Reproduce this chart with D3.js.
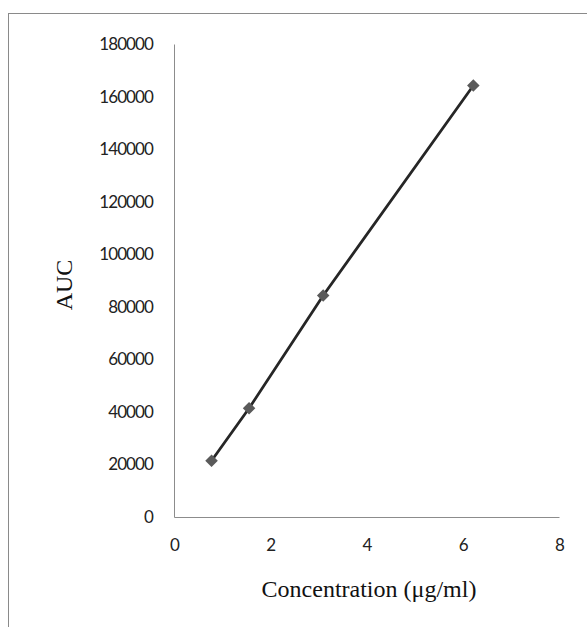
<!DOCTYPE html>
<html>
<head>
<meta charset="utf-8">
<script src="https://cdn.jsdelivr.net/npm/d3@7"></script>
<style>
  body { margin: 0; background: #fff; }
  .tick text { font-family: Lato, "Open Sans", sans-serif; font-size: 17px; letter-spacing: -0.9px; fill: #222; }
  .ttl { font-family: "Liberation Serif", "Times New Roman", serif; font-size: 24px; fill: #111; }
</style>
</head>
<body>
<svg id="chart"></svg>
<script>
let conc = [0.78, 1.56, 3.1, 6.22];
let auc = [21400, 41400, 84300, 164200];
let xTicks = [0, 2, 4, 6, 8];
let yTicks = [0, 20000, 40000, 60000, 80000, 100000, 120000, 140000, 160000, 180000];

let w = 587, h = 627;
let svg = d3.select('#chart')
    .attr('width', w)
    .attr('height', h);

//outer frame (runs off the right and bottom)
svg.append('rect')
    .attr('x', 8.5).attr('y', 13.5)
    .attr('width', w + 10).attr('height', h + 10)
    .attr('fill', 'none')
    .attr('stroke', '#8a8a8a')
    .attr('stroke-width', 1);

let xScale = d3.scaleLinear()
    .domain([0, 8])
    .range([174, 559]);

let yScale = d3.scaleLinear()
    .domain([0, 180000])
    .range([517, 44]);

//y-axis
let yAxis = svg.append('g')
    .attr('transform', 'translate(174, 0)')
    .call(d3.axisLeft(yScale).tickValues(yTicks).tickSize(0).tickPadding(21).tickFormat(d3.format('d')));
yAxis.select('.domain').attr('stroke', '#8c8c8c');

//x-axis
let xAxis = svg.append('g')
    .attr('transform', 'translate(0, 517)')
    .call(d3.axisBottom(xScale).tickValues(xTicks).tickSize(0).tickPadding(22));
xAxis.select('.domain').attr('stroke', '#8c8c8c');

//axis titles
svg.append('text')
    .attr('class', 'ttl')
    .attr('x', 369)
    .attr('y', 597)
    .style('text-anchor', 'middle')
    .text('Concentration (μg/ml)');

svg.append('text')
    .attr('class', 'ttl')
    .attr('transform', 'rotate(-90)')
    .attr('x', -285)
    .attr('y', 72)
    .style('text-anchor', 'middle')
    .text('AUC');

let pts = conc.map((c, i) => ({ x: c, y: auc[i] }));

svg.append('path')
    .datum(pts)
    .attr('fill', 'none')
    .attr('stroke', '#262626')
    .attr('stroke-width', 2.8)
    .attr('d', d3.line().x(d => xScale(d.x)).y(d => yScale(d.y)));

svg.selectAll('.pt')
    .data(pts)
    .enter()
    .append('path')
    .attr('class', 'pt')
    .attr('transform', d => 'translate(' + xScale(d.x) + ',' + yScale(d.y) + ')')
    .attr('d', d3.symbol().type(d3.symbolDiamond2).size(100))
    .attr('fill', '#5a5a5a');
</script>
</body>
</html>
